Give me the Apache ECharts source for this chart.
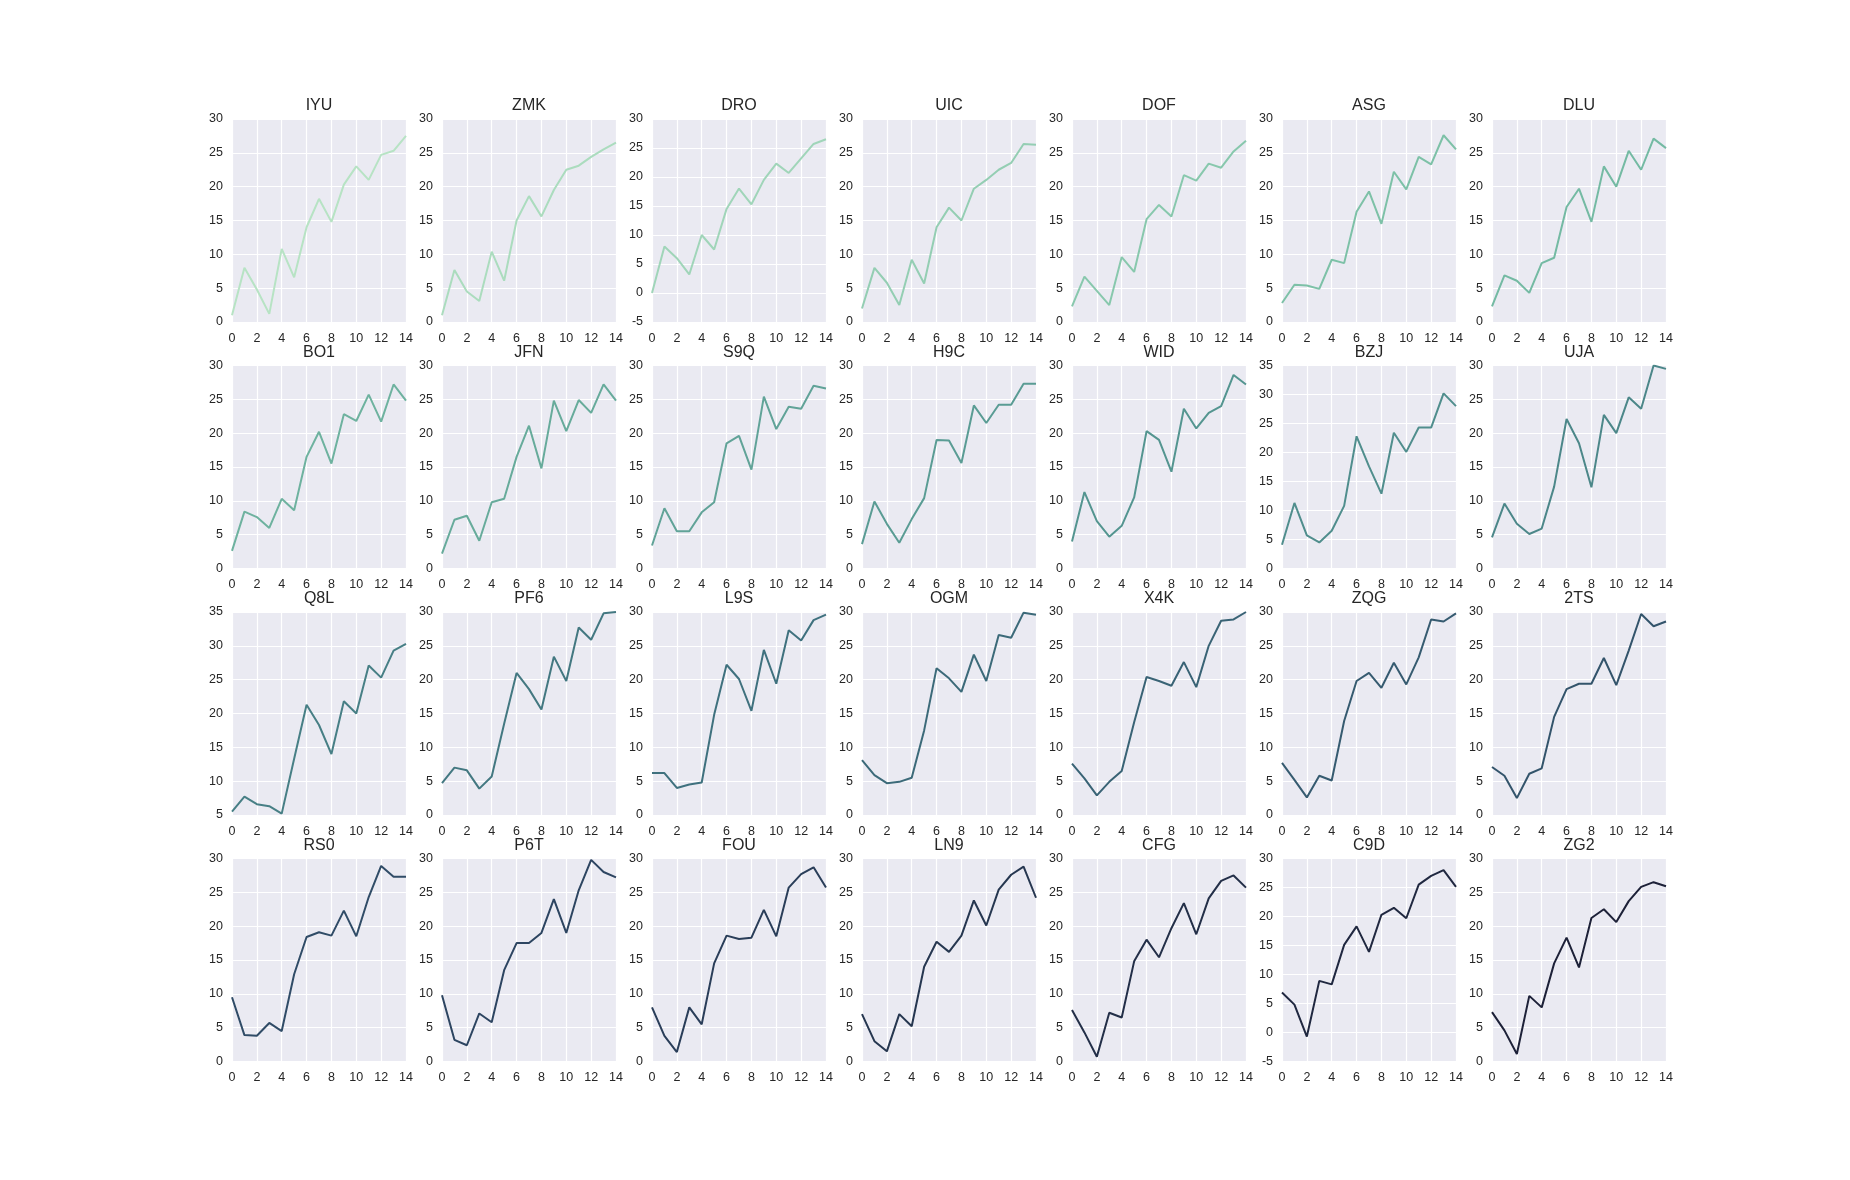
<!DOCTYPE html>
<html><head><meta charset="utf-8">
<script src="https://cdn.jsdelivr.net/npm/echarts@6/dist/echarts.min.js"></script>
<style>html,body{margin:0;padding:0;background:#fff}#c{width:1850px;height:1180px}</style>
</head><body><div id="c"></div>
<script>
const names = ["IYU","ZMK","DRO","UIC","DOF","ASG","DLU","BO1","JFN","S9Q","H9C","WID","BZJ","UJA","Q8L","PF6","L9S","OGM","X4K","ZQG","2TS","RS0","P6T","FOU","LN9","CFG","C9D","ZG2"];
const xValues = [0,1,2,3,4,5,6,7,8,9,10,11,12,13,14];
const IYU=[1,8,4.8,1.2,10.8,6.6,14,18.2,14.8,20.3,23,21,24.7,25.3,27.5];
const ZMK=[1,7.7,4.5,3.1,10.4,6.1,15,18.6,15.6,19.5,22.5,23.1,24.4,25.5,26.5];
const DRO=[0,8,6,3.2,10,7.5,14.5,18,15.3,19.5,22.3,20.7,23.2,25.7,26.5];
const UIC=[2,8,5.8,2.5,9.2,5.7,14,16.9,15,19.7,21,22.5,23.5,26.3,26.2];
const DOF=[2.3,6.7,4.6,2.5,9.6,7.4,15.2,17.3,15.6,21.7,20.9,23.4,22.8,25.2,26.8];
const ASG=[2.8,5.5,5.4,4.9,9.2,8.7,16.3,19.3,14.5,22.2,19.6,24.4,23.3,27.6,25.5];
const DLU=[2.3,6.9,6.1,4.3,8.7,9.5,17,19.7,14.8,23,20,25.3,22.5,27.1,25.7];
const BO1=[2.6,8.4,7.6,6,10.3,8.6,16.5,20.2,15.5,22.8,21.8,25.7,21.7,27.2,24.8];
const JFN=[2.2,7.2,7.8,4.1,9.8,10.3,16.5,21.1,14.8,24.8,20.3,24.9,23,27.2,24.8];
const S9Q=[3.4,8.9,5.5,5.5,8.3,9.8,18.5,19.6,14.6,25.4,20.6,23.9,23.6,27,26.6];
const H9C=[3.6,9.9,6.6,3.8,7.3,10.4,19,18.9,15.6,24.1,21.5,24.2,24.2,27.3,27.3];
const WID=[4,11.3,7,4.7,6.3,10.5,20.3,19,14.3,23.6,20.7,23,24,28.6,27.2];
const BZJ=[4.1,11.3,5.7,4.5,6.5,10.8,22.8,17.6,12.9,23.4,20.1,24.3,24.3,30.2,28];
const UJA=[4.6,9.6,6.6,5.1,5.9,12.1,22.1,18.5,12,22.7,20,25.3,23.6,30,29.5];
const Q8L=[5.5,7.7,6.6,6.3,5.2,13.3,21.3,18.3,14,21.8,20,27.1,25.3,29.3,30.3];
const PF6=[4.7,7,6.6,3.9,5.7,13.5,21,18.6,15.6,23.4,19.8,27.7,25.9,29.8,30];
const L9S=[6.2,6.2,4,4.5,4.8,14.8,22.2,20.1,15.4,24.4,19.4,27.3,25.8,28.8,29.6];
const OGM=[8.1,5.9,4.7,4.9,5.5,12.5,21.7,20.2,18.2,23.7,19.8,26.6,26.2,29.9,29.6];
const X4K=[7.6,5.4,2.9,4.9,6.5,13.7,20.4,19.8,19.1,22.6,18.9,25,28.7,28.9,30];
const ZQG=[7.7,5.2,2.6,5.8,5.1,13.9,19.8,21,18.8,22.5,19.3,23.3,28.9,28.6,29.8];
const TS2=[7.1,5.8,2.5,6.1,6.9,14.5,18.6,19.4,19.4,23.2,19.2,24.3,29.7,27.9,28.6];
const RS0=[9.5,3.9,3.8,5.7,4.5,12.9,18.4,19.1,18.6,22.3,18.5,24.3,28.9,27.3,27.3];
const P6T=[9.8,3.2,2.4,7.1,5.8,13.5,17.5,17.5,19,24,19,25.3,29.8,28,27.2];
const FOU=[8,3.8,1.4,8,5.5,14.5,18.6,18.1,18.3,22.4,18.5,25.7,27.7,28.7,25.7];
const LN9=[7,3,1.5,7,5.2,14,17.7,16.2,18.6,23.8,20.1,25.4,27.6,28.8,24.2];
const CFG=[7.6,4.3,0.7,7.2,6.5,14.8,18,15.4,19.7,23.4,18.8,24.1,26.7,27.5,25.7];
const C9D=[6.9,4.8,-0.7,8.9,8.3,15.1,18.3,13.9,20.3,21.5,19.7,25.5,27,28,25.1];
const ZG2=[7.3,4.6,1.1,9.7,8,14.5,18.3,13.9,21.2,22.5,20.6,23.7,25.8,26.5,25.9];
const seriesValues=[IYU,ZMK,DRO,UIC,DOF,ASG,DLU,BO1,JFN,S9Q,H9C,WID,BZJ,UJA,Q8L,PF6,L9S,OGM,X4K,ZQG,TS2,RS0,P6T,FOU,LN9,CFG,C9D,ZG2];
const yMins=[0,0,-5,0,0,0,0, 0,0,0,0,0,0,0, 5,0,0,0,0,0,0, 0,0,0,0,0,-5,0];
const yMaxs=[30,30,30,30,30,30,30, 30,30,30,30,30,35,30, 35,30,30,30,30,30,30, 30,30,30,30,30,30,30];

const anchors=[[183,227,196],[120,190,165],[85,150,145],[62,112,125],[46,72,100],[29,33,56]];
function col(i){const t=i/27*(anchors.length-1);const k=Math.min(Math.floor(t),anchors.length-2);const f=t-k;
 const c=anchors[k].map((v,j)=>Math.round(v+(anchors[k+1][j]-v)*f));return `rgb(${c[0]},${c[1]},${c[2]})`;}

const grids=[],xAxes=[],yAxes=[],series=[],titles=[];
const font='"Liberation Sans", Arial, sans-serif';
for(let i=0;i<28;i++){
 const r=Math.floor(i/7),c=i%7;
 const left=232+c*210, top=119+r*246.5, w=174, h=203;
 grids.push({left:left,top:top,width:w,height:h,backgroundColor:'#EAEAF2',show:true,borderWidth:0});
 titles.push({text:names[i],left:left+w/2-5,top:top-26,textAlign:'center',textStyle:{fontFamily:font,fontSize:16,fontWeight:'normal',color:'#262626'}});
 xAxes.push({gridIndex:i,type:'value',min:0,max:14,interval:2,axisLine:{show:false},axisTick:{show:false},
  axisLabel:{fontFamily:font,fontSize:12.5,color:'#262626',margin:10},splitLine:{lineStyle:{color:'#fff',width:1.2}}});
 yAxes.push({gridIndex:i,type:'value',min:yMins[i],max:yMaxs[i],interval:5,axisLine:{show:false},axisTick:{show:false},
  axisLabel:{fontFamily:font,fontSize:12.5,color:'#262626',margin:9},splitLine:{lineStyle:{color:'#fff',width:1.2}}});
 series.push({type:'line',xAxisIndex:i,yAxisIndex:i,data:xValues.map((x,j)=>[x,seriesValues[i][j]]),
  showSymbol:false,lineStyle:{color:col(i),width:2},itemStyle:{color:col(i)},animation:false});
}
const chart=echarts.init(document.getElementById('c'));
chart.setOption({animation:false,title:titles,grid:grids,xAxis:xAxes,yAxis:yAxes,series:series});
</script></body></html>
